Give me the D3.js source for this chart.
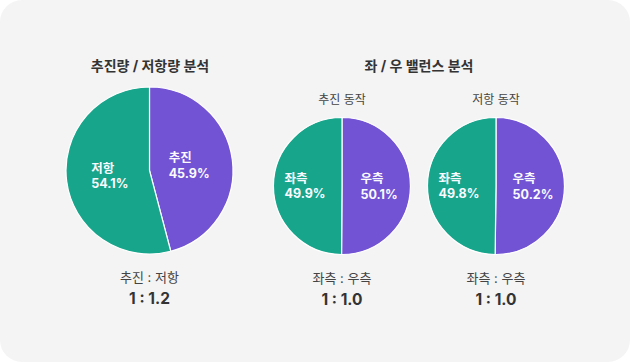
<!DOCTYPE html>
<html><head><meta charset="utf-8">
<script src="https://cdn.jsdelivr.net/npm/d3@7"></script>
<style>
html,body{margin:0;padding:0;background:#fff;}
svg{display:block;font-family:Inter,"Noto Sans CJK KR","Noto Sans",sans-serif;}
</style></head>
<body><svg id="c" width="630" height="362"></svg>
<script>
// ---- data ----
const sectionTitles = ["추진량 / 저항량 분석", "좌 / 우 밸런스 분석"];
const subTitles = ["추진 동작", "저항 동작"];
const mainLabels = ["추진", "저항"];
const mainValues = [45.9, 54.1];
const sideLabels = ["우측", "좌측"];
const pushValues = [50.1, 49.9];
const resistValues = [50.2, 49.8];
const ratioCaptions = ["추진 : 저항", "좌측 : 우측", "좌측 : 우측"];
const ratioValues = ["1 : 1.2", "1 : 1.0", "1 : 1.0"];
const sliceColors = ["#7253d3", "#17a58c"];

const svg = d3.select("#c");
svg.append("rect").attr("x",0).attr("y",0).attr("width",630).attr("height",362)
  .attr("rx",22).attr("fill","#f4f4f4");

const color = d3.scaleOrdinal().domain([0,1]).range(sliceColors);
const pie = d3.pie().sort(null).value(d=>d.v);

function drawPie(cx, cy, R, labelR, labels, values, cap, ratio){
  const g = svg.append("g").attr("transform",`translate(${cx},${cy})`);
  const data = pie(values.map((v,i)=>({v, l:labels[i], i})));
  const arc = d3.arc().innerRadius(0).outerRadius(R);
  const larc = d3.arc().innerRadius(labelR).outerRadius(labelR);
  g.selectAll("path").data(data).join("path")
    .attr("d",arc).attr("fill",d=>color(d.data.i))
    .attr("stroke","#fff").attr("stroke-width",1.2);
  data.forEach(d=>{
    const [x,y] = larc.centroid(d);
    const t = g.append("text").attr("fill","#fbfbff").attr("font-weight",700)
      .attr("font-size",12.5).attr("text-anchor","start");
    t.append("tspan").attr("x",0).attr("y",0).text(d.data.l);
    t.append("tspan").attr("x",0).attr("y",15.5).text(d.value.toFixed(1)+"%");
    const b = t.node().getBBox();
    // center the two-line block on the centroid (using glyph extents: top ~ -10, bottom ~ 15.5)
    const w = b.width;
    t.attr("transform",`translate(${x - b.x - w/2},${y - 3})`);
  });
  svg.append("text").attr("x",cx).attr("y",cy+R+28).attr("text-anchor","middle")
    .attr("font-size",13).attr("fill","#444").text(cap);
  svg.append("text").attr("x",cx).attr("y",cy+R+50).attr("text-anchor","middle")
    .attr("font-size",15.5).attr("font-weight",700).attr("fill","#333").text(ratio);
}

// titles
svg.append("text").attr("x",150).attr("y",71).attr("text-anchor","middle")
  .attr("font-size",14).attr("font-weight",700).attr("fill","#333").text(sectionTitles[0]);
svg.append("text").attr("x",419).attr("y",71).attr("text-anchor","middle")
  .attr("font-size",14).attr("font-weight",700).attr("fill","#333").text(sectionTitles[1]);
svg.append("text").attr("x",342).attr("y",104).attr("text-anchor","middle")
  .attr("font-size",12).attr("fill","#444").text(subTitles[0]);
svg.append("text").attr("x",496).attr("y",104).attr("text-anchor","middle")
  .attr("font-size",12).attr("fill","#444").text(subTitles[1]);

drawPie(149.5, 170.5, 83.5, 40, mainLabels, mainValues, ratioCaptions[0], ratioValues[0]);
drawPie(342, 186, 68.5, 37, sideLabels, pushValues, ratioCaptions[1], ratioValues[1]);
drawPie(496, 186, 68.5, 37, sideLabels, resistValues, ratioCaptions[2], ratioValues[2]);
</script></body></html>
